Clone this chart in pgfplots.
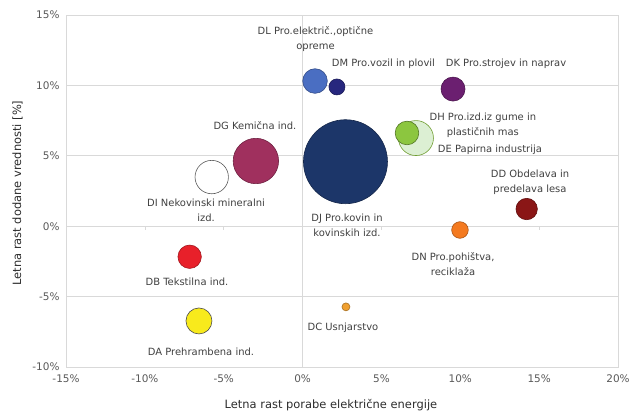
\documentclass[border=0pt]{standalone}
\usepackage{fontspec}
\setmainfont{DejaVu Sans}
\usepackage{pgfplots}
\pgfplotsset{compat=1.18}
\definecolor{gridgray}{HTML}{D9D9D9}
\definecolor{tickgray}{HTML}{595959}
\definecolor{labelgray}{HTML}{404040}
\definecolor{axlabel}{HTML}{2B2B2B}
\definecolor{cDL}{HTML}{4A6EC2}
\definecolor{cDM}{HTML}{27277E}
\definecolor{cDK}{HTML}{6B1F70}
\definecolor{cDH}{HTML}{8CC63F}
\definecolor{cDE}{HTML}{DCEFD3}
\definecolor{cDJ}{HTML}{1C3669}
\definecolor{cDG}{HTML}{A0305E}
\definecolor{cDI}{HTML}{FFFFFF}
\definecolor{cDB}{HTML}{E8202A}
\definecolor{cDA}{HTML}{F8EA1C}
\definecolor{cDC}{HTML}{F0A030}
\definecolor{cDN}{HTML}{F47A20}
\definecolor{cDD}{HTML}{8A1616}
\tikzset{lbl/.style={font=\fontsize{10}{15}\selectfont, text=labelgray, align=center, inner sep=0pt}}
\begin{document}
\begin{tikzpicture}
\useasboundingbox (0,0) rectangle (629bp,417bp);
\begin{axis}[
  at={(66bp,50bp)}, anchor=south west,
  scale only axis, width=552bp, height=352bp,
  xmin=-15, xmax=20, ymin=-10, ymax=15,
  xtick={-15,-10,-5,0,5,10,15,20},
  ytick={-10,-5,0,5,10,15},
  xticklabels={-15\%,-10\%,-5\%,0\%,5\%,10\%,15\%,20\%},
  yticklabels={-10\%,-5\%,0\%,5\%,10\%,15\%},
  major tick length=0pt,
  ymajorgrids,
  grid style={draw=gridgray, line width=0.7pt},
  axis line style={draw=gridgray, line width=0.7pt},
  tick label style={font=\fontsize{10.5}{12}\selectfont, text=tickgray},
  xticklabel style={yshift=-4bp},
  yticklabel style={xshift=-3bp},
  xlabel={Letna rast porabe električne energije},
  ylabel={Letna rast dodane vrednosti [\%]},
  label style={font=\fontsize{11.5}{13}\selectfont, text=axlabel},
  xlabel style={at={(axis description cs:0.48,0)}, anchor=center, yshift=-38bp},
  ylabel style={at={(axis description cs:-0.088,0.494)}, anchor=center},
  clip=false,
  every axis plot/.append style={only marks, mark=*},
]
% axis lines at zero
\draw[gridgray, line width=0.7pt] (axis cs:0,-10) -- (axis cs:0,15);
\pgfplotsinvokeforeach{-15,-10,-5,5,10,15,20}{\draw[gridgray, line width=0.7pt] (axis cs:#1,0) -- ([yshift=-4bp]axis cs:#1,0);}
\pgfplotsinvokeforeach{-10,-5,5,10,15}{\draw[gridgray, line width=0.7pt] (axis cs:0,#1) -- ([xshift=-4bp]axis cs:0,#1);}
% bubbles
\addplot[mark size=42bp, mark options={fill=cDJ, draw=cDJ!70!black, line width=0.6pt}] coordinates {(2.72,4.58)};
\addplot[mark size=22.7bp, mark options={fill=cDG, draw=cDG!70!black, line width=0.6pt}] coordinates {(-2.96,4.63)};
\addplot[mark size=16.7bp, mark options={fill=cDI, draw=black!65, line width=0.6pt}] coordinates {(-5.76,3.49)};
\addplot[mark size=17.5bp, mark options={fill=cDE, draw=cDH!80!black, line width=0.6pt}] coordinates {(7.19,6.26)};
\addplot[mark size=11.8bp, mark options={fill=cDH, draw=cDH!60!black, line width=0.6pt}] coordinates {(6.62,6.62)};
\addplot[mark size=12.3bp, mark options={fill=cDL, draw=cDL!70!black, line width=0.6pt}] coordinates {(0.79,10.31)};
\addplot[mark size=8bp, mark options={fill=cDM, draw=cDM!70!black, line width=0.6pt}] coordinates {(2.18,9.89)};
\addplot[mark size=12bp, mark options={fill=cDK, draw=cDK!70!black, line width=0.6pt}] coordinates {(9.54,9.74)};
\addplot[mark size=11.7bp, mark options={fill=cDB, draw=cDB!70!black, line width=0.6pt}] coordinates {(-7.16,-2.17)};
\addplot[mark size=13bp, mark options={fill=cDA, draw=black!70, line width=0.6pt}] coordinates {(-6.57,-6.73)};
\addplot[mark size=4bp, mark options={fill=cDC, draw=cDC!70!black, line width=0.6pt}] coordinates {(2.75,-5.73)};
\addplot[mark size=8.3bp, mark options={fill=cDN, draw=cDN!70!black, line width=0.6pt}] coordinates {(9.98,-0.27)};
\addplot[mark size=10.7bp, mark options={fill=cDD, draw=cDD!70!black, line width=0.6pt}] coordinates {(14.21,1.22)};
% labels
\node[lbl] at (axis cs:0.82,13.26) {DL Pro.električ.,optične\\opreme};
\node[lbl] at (axis cs:5.13,11.52) {DM Pro.vozil in plovil};
\node[lbl] at (axis cs:12.9,11.52) {DK Pro.strojev in naprav};
\node[lbl] at (axis cs:11.43,7.18) {DH Pro.izd.iz gume in\\plastičnih mas};
\node[lbl] at (axis cs:11.88,5.41) {DE Papirna industrija};
\node[lbl] at (axis cs:-3.02,7.12) {DG Kemična ind.};
\node[lbl] at (axis cs:-6.12,1.12) {DI Nekovinski mineralni\\izd.};
\node[lbl] at (axis cs:2.82,0.05) {DJ Pro.kovin in\\kovinskih izd.};
\node[lbl] at (axis cs:9.54,-2.68) {DN Pro.pohištva,\\reciklaža};
\node[lbl] at (axis cs:14.42,3.1) {DD Obdelava in\\predelava lesa};
\node[lbl] at (axis cs:-7.33,-3.96) {DB Tekstilna ind.};
\node[lbl] at (axis cs:-6.44,-8.93) {DA Prehrambena ind.};
\node[lbl] at (axis cs:2.56,-7.23) {DC Usnjarstvo};
\end{axis}
\end{tikzpicture}
\end{document}
